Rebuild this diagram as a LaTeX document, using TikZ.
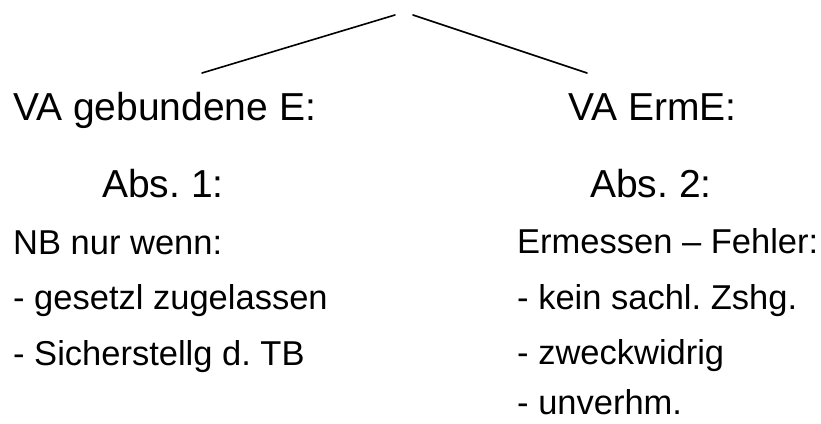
\documentclass[tikz,border=0pt]{standalone}
\usepackage{fontspec}
\setmainfont{Liberation Sans}
\frenchspacing
\begin{document}
\begin{tikzpicture}[x=1pt,y=-1pt,
  big/.style={anchor=base west,inner sep=0pt,font=\fontsize{39}{39}\selectfont},
  small/.style={anchor=base west,inner sep=0pt,font=\fontsize{34.5}{34.5}\selectfont},
  branch/.style={line width=1.6pt,line cap=round}]
\useasboundingbox (0,0) rectangle (821,423);
% connectors
\coordinate (tl) at (395,15);
\coordinate (tr) at (413,15);
\coordinate (bl) at (202,73);
\coordinate (br) at (587,73);
\draw[branch] (tl) -- (bl);
\draw[branch] (tr) -- (br);
% left column
\node[big] (vag) at (13,120) {VA gebundene E:};
\node[big] (abs1) at (102,197) {Abs. 1:};
\node[small] (nb) at (13,254) {NB nur wenn:};
\node[small] (l1) at (13,309) {- gesetzl zugelassen};
\node[small] (l2) at (13,365) {- Sicherstellg d. TB};
% right column
\node[big] (vae) at (568,120) {VA ErmE:};
\node[big] (abs2) at (590,197) {Abs. 2:};
\node[small] (erm) at (517,253) {Ermessen – Fehler:};
\node[small] (r1) at (517,309) {- kein sachl. Zshg.};
\node[small] (r2) at (517,364) {- zweckwidrig};
\node[small] (r3) at (517,414) {- unverhm.};
\end{tikzpicture}
\end{document}
